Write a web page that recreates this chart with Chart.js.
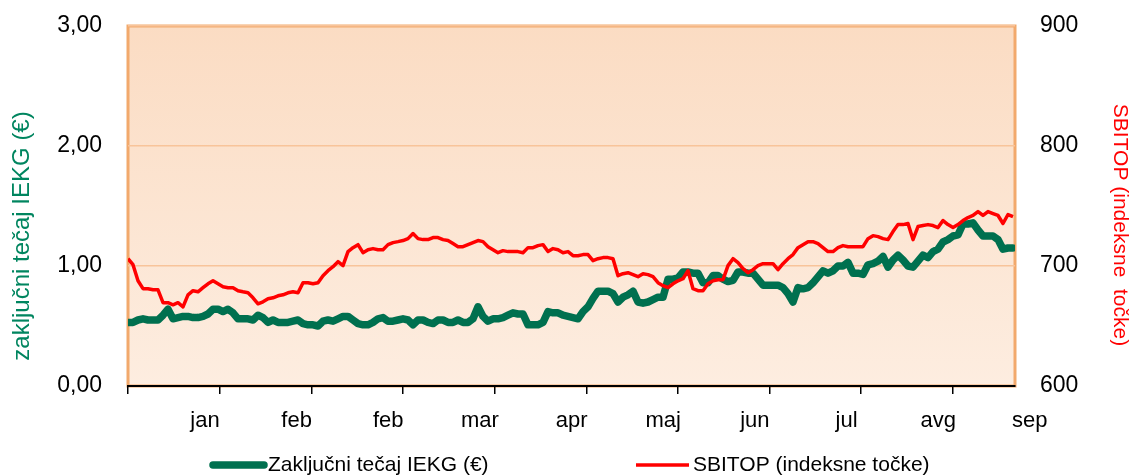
<!DOCTYPE html>
<html>
<head>
<meta charset="utf-8">
<script src="https://cdn.jsdelivr.net/npm/chart.js@4.4.1/dist/chart.umd.min.js"></script>
<style>
    html, body { margin: 0; padding: 0; background: #fff; }
</style>
</head>
<body>
<canvas id="myChart" width="1131" height="476"></canvas>
<script>
// Mesečne oznake na osi x (ena oznaka na vsak mesečni razdelek)
const months = ["jan", "feb", "feb", "mar", "apr", "maj", "jun", "jul", "avg", "sep"];
const daysPerMonth = 18.33; // trgovalni dnevi med dvema oznakama
const lastDay = 177.4;

// Zaključni tečaj IEKG (€), levo os
const iekg = [
    0.53, 0.53, 0.55, 0.56, 0.55, 0.55, 0.55, 0.59, 0.64, 0.56,
    0.57, 0.58, 0.58, 0.57, 0.57, 0.58, 0.60, 0.64, 0.64, 0.62,
    0.64, 0.61, 0.56, 0.56, 0.56, 0.55, 0.59, 0.57, 0.53, 0.55,
    0.53, 0.53, 0.53, 0.54, 0.55, 0.52, 0.51, 0.51, 0.50, 0.54,
    0.55, 0.54, 0.56, 0.58, 0.58, 0.55, 0.52, 0.51, 0.51, 0.53,
    0.56, 0.57, 0.54, 0.54, 0.55, 0.56, 0.55, 0.51, 0.55, 0.55,
    0.53, 0.52, 0.55, 0.55, 0.53, 0.53, 0.55, 0.53, 0.53, 0.56,
    0.66, 0.58, 0.54, 0.56, 0.56, 0.57, 0.59, 0.61, 0.60, 0.60,
    0.51, 0.51, 0.51, 0.53, 0.62, 0.61, 0.61, 0.59, 0.58, 0.57,
    0.56, 0.62, 0.66, 0.73, 0.79, 0.79, 0.79, 0.77, 0.70, 0.74,
    0.76, 0.79, 0.70, 0.69, 0.70, 0.72, 0.74, 0.74, 0.89, 0.89,
    0.90, 0.95, 0.95, 0.94, 0.94, 0.86, 0.86, 0.92, 0.92, 0.89,
    0.87, 0.88, 0.95, 0.95, 0.94, 0.94, 0.89, 0.84, 0.84, 0.84,
    0.84, 0.82, 0.77, 0.70, 0.82, 0.81, 0.82, 0.86, 0.91, 0.96,
    0.94, 0.96, 1.00, 1.00, 1.03, 0.94, 0.94, 0.93, 1.01, 1.02,
    1.04, 1.08, 0.99, 1.05, 1.09, 1.05, 1.00, 0.99, 1.04, 1.09,
    1.07, 1.12, 1.14, 1.20, 1.22, 1.25, 1.26, 1.35, 1.35, 1.36,
    1.30, 1.25, 1.25, 1.25, 1.22, 1.14, 1.15, 1.15
];

// SBITOP (indeksne točke), desna os
const sbitop = [
    706.1, 701.1, 687.7, 681.1, 681.1, 680.2, 680.2, 669.4, 669.4, 667.7,
    669.4, 666.0, 676.0, 679.4, 678.5, 681.9, 685.2, 687.7, 685.2, 682.7,
    681.9, 681.9, 679.4, 678.5, 677.7, 673.5, 668.5, 670.2, 672.7, 673.5,
    675.2, 676.0, 677.7, 678.5, 677.7, 686.1, 686.1, 685.2, 686.1, 691.9,
    696.1, 699.4, 703.6, 700.3, 712.0, 715.3, 717.8, 711.1, 713.6, 714.5,
    713.6, 713.6, 717.8, 719.5, 720.3, 721.2, 722.8, 727.0, 722.8, 722.0,
    722.0, 723.7, 723.7, 722.0, 721.2, 718.7, 716.1, 716.1, 717.8, 719.5,
    721.2, 720.3, 716.1, 713.6, 711.1, 712.8, 712.0, 712.0, 712.0, 711.1,
    715.3, 715.3, 717.0, 717.8, 712.0, 714.5, 713.6, 711.1, 712.0, 708.6,
    708.6, 709.5, 709.5, 704.5, 706.1, 707.0, 707.0, 706.1, 691.9, 693.6,
    694.4, 692.8, 691.1, 693.6, 692.8, 691.1, 686.1, 683.6, 681.9, 685.2,
    687.7, 689.4, 696.1, 681.1, 679.4, 679.4, 685.2, 687.7, 688.6, 688.6,
    700.3, 706.1, 702.8, 697.8, 694.4, 696.9, 700.3, 701.9, 701.9, 701.9,
    696.9, 701.9, 706.1, 709.5, 715.3, 717.8, 720.3, 720.3, 718.7, 715.3,
    712.0, 712.0, 715.3, 717.0, 716.1, 716.1, 716.1, 716.1, 722.8, 725.3,
    724.5, 722.8, 722.0, 728.7, 734.5, 734.5, 735.4, 722.0, 732.9, 733.7,
    734.5, 733.7, 732.0, 737.9, 734.5, 732.0, 734.5, 737.9, 740.4, 742.1,
    745.4, 742.1, 745.4, 743.7, 742.1, 735.4, 742.9, 741.2
];

const leftTicks = [0, 1, 2, 3];
const rightTicks = [600, 700, 800, 900];

const FONT = "'Liberation Sans', Arial, sans-serif";
const GREEN = "#00704f";
const RED = "#ff0000";

// Ozadje risalne površine (oranžni preliv) in okvir
const plotBackground = {
    id: "plotBackground",
    beforeDraw(chart) {
        const { ctx, chartArea: a } = chart;
        const grad = ctx.createLinearGradient(0, a.top, 0, a.bottom);
        grad.addColorStop(0, "#fbdcc3");
        grad.addColorStop(1, "#fdede0");
        ctx.save();
        ctx.fillStyle = grad;
        ctx.fillRect(a.left, a.top, a.right - a.left, a.bottom - a.top);
        ctx.strokeStyle = "#f2a96c";
        ctx.lineWidth = 3;
        ctx.strokeRect(a.left, a.top, a.right - a.left, a.bottom - a.top);
        ctx.restore();
    },
};

// Naslova osi (navpično besedilo) in legenda spodaj
const axisTitles = [
    { text: "zaključni tečaj IEKG (€)", color: "#00855f", size: 24, x: 22, y: 236, rot: -Math.PI / 2 },
    { text: "SBITOP (indeksne  točke)", color: RED, size: 21, x: 1120, y: 225, rot: Math.PI / 2 },
];

const textLayer = {
    id: "textLayer",
    afterDraw(chart) {
        const ctx = chart.ctx;
        ctx.save();
        ctx.textBaseline = "middle";
        axisTitles.forEach((t) => {
            ctx.save();
            ctx.translate(t.x, t.y);
            ctx.rotate(t.rot);
            ctx.textAlign = "center";
            ctx.fillStyle = t.color;
            ctx.font = t.size + "px " + FONT;
            ctx.fillText(t.text, 0, 0);
            ctx.restore();
        });

        const slots = [
            { x0: 213, x1: 264 },
            { x0: 636, x1: 689 },
        ];
        const y = 465;
        ctx.font = "21px " + FONT;
        ctx.textAlign = "left";
        ctx.fillStyle = "#000";
        chart.data.datasets.forEach((ds, i) => {
            const s = slots[i];
            ctx.strokeStyle = ds.borderColor;
            ctx.lineWidth = ds.borderWidth;
            ctx.lineCap = i === 0 ? "round" : "butt";
            ctx.beginPath();
            ctx.moveTo(s.x0, y);
            ctx.lineTo(s.x1, y);
            ctx.stroke();
            ctx.fillText(ds.label, s.x1 + 4, y);
        });
        ctx.restore();
    },
};

const ctx = document.getElementById("myChart").getContext("2d");
new Chart(ctx, {
    type: "line",
    data: {
        datasets: [
            {
                label: "Zaključni tečaj IEKG (€)",
                data: iekg.map((v, i) => ({ x: i, y: v })),
                borderColor: GREEN,
                borderWidth: 7.5,
                borderJoinStyle: "round",
                borderCapStyle: "round",
                pointRadius: 0,
                tension: 0,
                yAxisID: "y",
                order: 2,
            },
            {
                label: "SBITOP (indeksne točke)",
                data: sbitop.map((v, i) => ({ x: i, y: v })),
                borderColor: RED,
                borderWidth: 3.5,
                borderJoinStyle: "round",
                pointRadius: 0,
                tension: 0,
                yAxisID: "y1",
                order: 1,
            },
        ],
    },
    options: {
        responsive: false,
        devicePixelRatio: 1,
        animation: false,
        layout: { padding: { top: 26, bottom: 35, left: 0, right: 0 } },
        scales: {
            x: {
                type: "linear",
                min: 0,
                max: lastDay,
                afterBuildTicks: (s) => {
                    s.ticks = months.map((m, k) => ({ value: k * daysPerMonth }));
                },
                afterFit: (s) => { s.height = 55; },
                ticks: {
                    autoSkip: false,
                    maxRotation: 0,
                    labelOffset: 77,
                    padding: 14,
                    color: "#000",
                    font: { family: FONT, size: 22 },
                    callback: (value, index) => months[index],
                },
                grid: {
                    drawOnChartArea: false,
                    color: "#000",
                    lineWidth: 1.5,
                    tickLength: 8,
                },
                border: { color: "#000", width: 2 },
            },
            y: {
                position: "left",
                min: 0,
                max: 3,
                afterBuildTicks: (s) => {
                    s.ticks = leftTicks.map((v) => ({ value: v }));
                },
                afterFit: (s) => {
                    s.width = 128;
                    s.paddingTop = 0;
                    s.paddingBottom = 0;
                },
                ticks: {
                    padding: 26,
                    color: "#000",
                    font: { family: FONT, size: 23 },
                    callback: (v) => v.toFixed(2).replace(".", ","),
                },
                grid: { color: "#f8c49a", lineWidth: 1.5, drawTicks: false },
                border: { display: false },
            },
            y1: {
                position: "right",
                min: 600,
                max: 900,
                afterBuildTicks: (s) => {
                    s.ticks = rightTicks.map((v) => ({ value: v }));
                },
                afterFit: (s) => {
                    s.width = 116;
                    s.paddingTop = 0;
                    s.paddingBottom = 0;
                },
                ticks: {
                    padding: 25,
                    color: "#000",
                    font: { family: FONT, size: 23 },
                },
                grid: { display: false, drawTicks: false },
                border: { display: false },
            },
        },
        plugins: {
            legend: { display: false },
            tooltip: { enabled: false },
        },
    },
    plugins: [plotBackground, textLayer],
});
</script>
</body>
</html>
